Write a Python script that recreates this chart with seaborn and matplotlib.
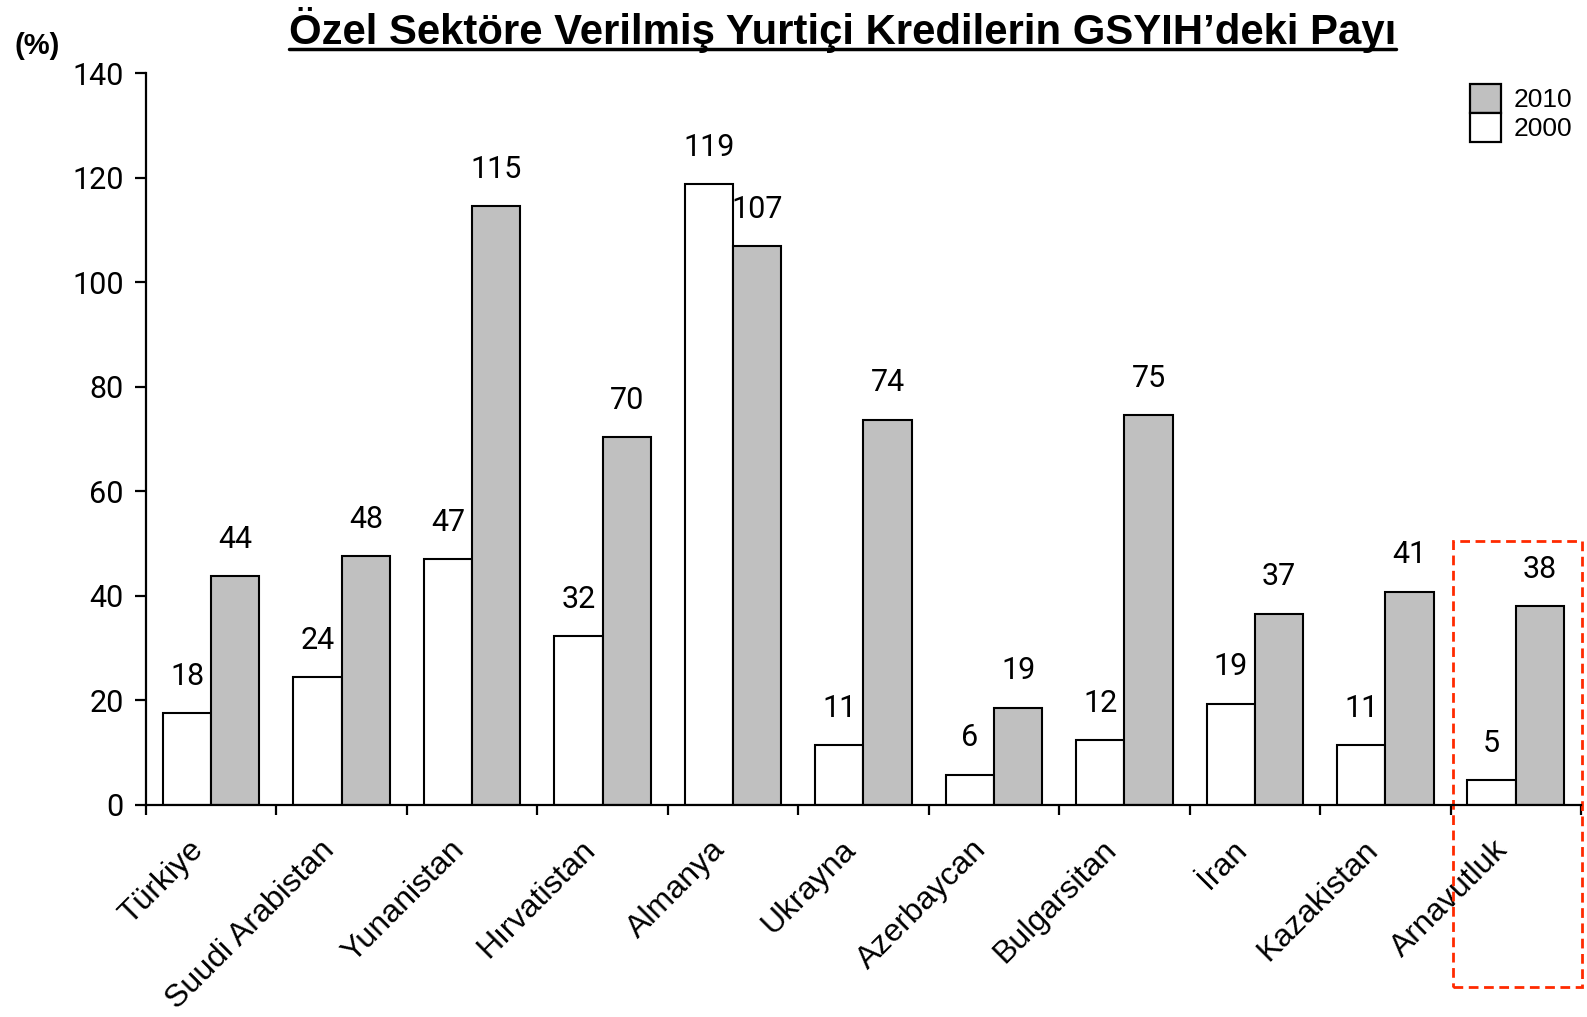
import pandas as pd
import matplotlib
matplotlib.use('Agg')
import matplotlib.pyplot as plt
import matplotlib.transforms as mtransforms
from matplotlib.patches import Rectangle, Patch
from matplotlib.lines import Line2D
import seaborn as sns

countries = ['Türkiye', 'Suudi Arabistan', 'Yunanistan', 'Hırvatistan', 'Almanya', 'Ukrayna',
             'Azerbaycan', 'Bulgarsitan', 'İran', 'Kazakistan', 'Arnavutluk']
share_2000 = [17.6, 24.4, 47.0, 32.3, 118.7, 11.4, 5.8, 12.4, 19.4, 11.4, 4.8]
share_2010 = [43.7, 47.6, 114.6, 70.4, 106.9, 73.7, 18.6, 74.6, 36.6, 40.8, 38.1]
years = ['2000', '2010']
yticks = [0, 20, 40, 60, 80, 100, 120, 140]

df = pd.DataFrame({
    'country': countries * 2,
    'year': ['2000'] * len(countries) + ['2010'] * len(countries),
    'value': share_2000 + share_2010,
})

sns.set_style('white')
plt.rcParams['font.family'] = ['Liberation Sans', 'DejaVu Sans']
plt.rcParams['text.color'] = 'black'
plt.rcParams['xtick.color'] = 'black'
plt.rcParams['ytick.color'] = 'black'
plt.rcParams['axes.labelcolor'] = 'black'

fig = plt.figure(figsize=(15.87, 10.17), dpi=100)
ax = fig.add_axes([0.092, 0.2085, 0.9042, 0.7197])

palette = {'2000': 'white', '2010': '#c0c0c0'}
sns.barplot(data=df, x='country', y='value', hue='year', hue_order=years, order=countries,
            palette=palette, edgecolor='black', linewidth=1.5, width=0.74,
            legend=False, ax=ax, saturation=1)

num_font = ['Roboto', 'DejaVu Sans']
for cont in ax.containers:
    labels = ax.bar_label(cont, fmt='%.0f', padding=16, fontsize=22, color='black')
    for t in labels:
        t.set_family(num_font)

ax.set_xlim(-0.5, len(countries) - 0.5)
ax.set_ylim(0, 140)
ax.set_yticks(yticks)
ax.set_yticklabels([str(v) for v in yticks], family=num_font, fontsize=22)
ax.set_xlabel('')
ax.set_ylabel('')

for s in ['top', 'right']:
    ax.spines[s].set_visible(False)
for s in ['left', 'bottom']:
    ax.spines[s].set_linewidth(1.6)
    ax.spines[s].set_color('black')

ax.tick_params(axis='y', direction='out', length=8, width=1.6, pad=8, left=True)
ax.set_xticks([i - 0.5 for i in range(len(countries) + 1)], minor=True)
ax.tick_params(axis='x', which='minor', direction='out', length=7, width=1.6, bottom=True)
ax.tick_params(axis='x', which='major', length=0, pad=29)
ax.set_xticks(range(len(countries)))
ax.set_xticklabels(countries, rotation=45, ha='right', va='center',
                   rotation_mode='anchor', fontsize=23)
offset = mtransforms.ScaledTranslation(-12 / 100, 0, fig.dpi_scale_trans)
for lab in ax.get_xticklabels():
    lab.set_transform(lab.get_transform() + offset)

# legend: 2010 on top, 2000 below
handles = [Patch(facecolor='#c0c0c0', edgecolor='black', linewidth=1.6, label='2010'),
           Patch(facecolor='white', edgecolor='black', linewidth=1.6, label='2000')]
ax.legend(handles=handles, loc='upper right', bbox_to_anchor=(0.994, 0.985), frameon=False,
          fontsize=19, handlelength=1.15, handleheight=1.3, labelspacing=0,
          handletextpad=0.5, borderpad=0, borderaxespad=0)

# highlight box around the last group
ax.add_patch(Rectangle((9.52, -34.8), 0.99, 85.2, fill=False, edgecolor='#ff2a00',
                       linewidth=2, linestyle=(0, (3.5, 2)), clip_on=False))

fig.text(0.009, 0.955, '(%)', fontsize=21, fontweight='bold', ha='left', va='center')
title = fig.text(0.531, 0.9705, 'Özel Sektöre Verilmiş Yurtiçi Kredilerin GSYIH’deki Payı',
                 fontsize=30.2, fontweight='bold', ha='center', va='center')

fig.canvas.draw()
bb = title.get_window_extent().transformed(fig.transFigure.inverted())
fig.add_artist(Line2D([bb.x0, bb.x1], [bb.y0 + 0.004, bb.y0 + 0.004],
                      transform=fig.transFigure, color='black', linewidth=2.5))

fig.savefig('out.png', dpi=100)
